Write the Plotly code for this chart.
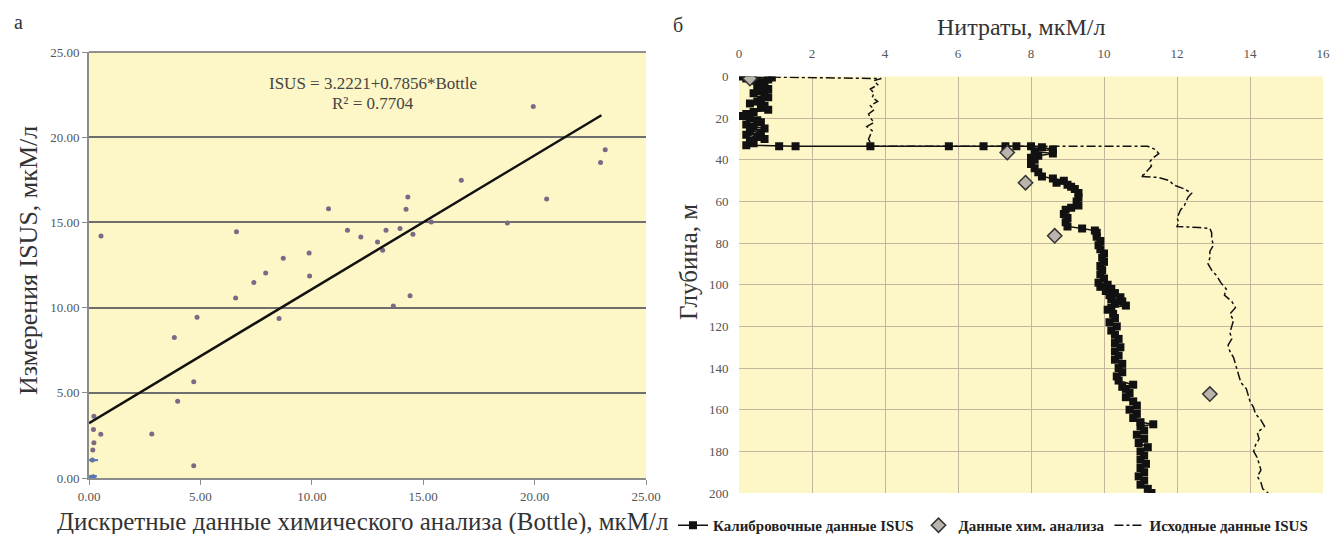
import plotly.graph_objects as go

# ---------------- data: panel a (scatter) ----------------
bottle = [0.10, 0.20, 0.15, 0.17, 0.22, 0.20, 0.22, 0.53, 0.54, 2.82, 3.83, 3.98, 4.70, 4.70,
          4.85, 6.58, 6.62, 7.40, 7.93, 8.53, 8.72, 9.88, 9.90, 10.75, 11.60, 12.20, 12.95,
          13.18, 13.33, 13.66, 13.96, 14.23, 14.31, 14.41, 14.54, 15.36, 16.71, 18.78, 19.94,
          20.54, 22.96, 23.17]
isus = [0.05, 0.08, 1.05, 1.64, 2.07, 2.85, 3.63, 2.57, 14.20, 2.58, 8.25, 4.51, 5.65, 0.72,
        9.44, 10.57, 14.45, 11.47, 12.03, 9.36, 12.90, 13.20, 11.86, 15.80, 14.54, 14.15, 13.85,
        13.36, 14.54, 10.10, 14.64, 15.77, 16.49, 10.69, 14.30, 15.02, 17.47, 14.97, 21.80,
        16.37, 18.52, 19.27]
near_zero_x = [0.10, 0.20, 0.15, 0.25]
near_zero_y = [0.05, 0.10, 1.05, 1.05]
fit_a = 3.2221
fit_b = 0.7856
fit_x = [0.0, 23.0]

# ---------------- data: panel b (profiles) ----------------
cal_depth = [0, 0.5, 1, 1.5, 2, 3, 4, 5, 6, 7, 8, 9, 10, 11, 12, 13, 14, 15, 16, 17, 18, 19, 20,
             21, 22, 23, 24, 25, 26, 27, 28, 29, 30, 31, 32, 33, 33.5, 33.5, 33.5, 33.5, 33.5,
             33.5, 33.5, 33.5, 34, 35, 36, 37, 38, 39, 40, 42, 44, 46, 48, 49, 50, 51, 52, 53,
             54, 56, 58, 60, 62, 63, 64, 66, 68, 70, 72, 73, 74, 75, 77, 79, 81, 83, 85, 87, 89,
             91, 93, 95, 97, 99, 100, 101, 102, 103, 104, 105, 106, 107, 108, 109, 110, 111, 112,
             114, 116, 118, 120, 122, 124, 126, 128, 130, 132, 134, 136, 138, 140, 142, 144, 146,
             148, 149, 150, 152, 154, 156, 158, 160, 162, 164, 166, 167, 168, 170, 172, 174, 176,
             178, 180, 182, 184, 186, 188, 190, 192, 194, 196, 198, 200]
cal_no3 = [0.0, 0.9, 0.2, 0.8, 0.4, 0.7, 0.6, 0.5, 0.8, 0.6, 0.4, 0.7, 0.8, 0.6, 0.5, 0.3, 0.7,
           0.6, 0.8, 0.4, 0.2, 0.1, 0.3, 0.5, 0.6, 0.2, 0.4, 0.7, 0.3, 0.6, 0.2, 0.5, 0.7, 0.3,
           0.4, 0.2, 1.1, 1.55, 3.6, 5.75, 6.7, 7.3, 7.6, 8.0, 8.3, 8.6, 8.1, 8.6, 8.2, 8.0, 8.1,
           8.0, 8.1, 8.2, 8.3, 8.6, 8.9, 8.7, 9.0, 9.1, 9.2, 9.3, 9.3, 9.25, 9.3, 9.1, 8.95, 8.9,
           9.0, 8.95, 9.0, 9.4, 9.75, 9.8, 9.8, 9.9, 9.85, 9.9, 10.0, 9.95, 10.0, 9.9, 9.95, 9.9,
           10.0, 9.85, 10.1, 9.9, 10.2, 10.05, 10.3, 10.15, 10.45, 10.2, 10.5, 10.3, 10.6, 10.2,
           10.1, 10.25, 10.3, 10.15, 10.35, 10.2, 10.3, 10.4, 10.3, 10.45, 10.3, 10.4, 10.3, 10.5,
           10.4, 10.5, 10.35, 10.4, 10.8, 10.5, 10.6, 10.7, 10.6, 10.8, 10.9, 10.7, 10.9, 10.8,
           11.0, 11.35, 11.0, 11.1, 10.9, 11.1, 10.95, 11.2, 11.0, 11.1, 11.0, 11.15, 11.0, 11.1,
           10.95, 11.1, 11.0, 11.2, 11.3]

raw_depth = [0.3, 0.8, 1, 2, 4, 6, 8, 10, 12, 14, 16, 18, 20, 22, 24, 26, 28, 30, 32, 33, 33.5,
             33.5, 35, 37, 39, 41, 43, 45, 47, 48, 48.5, 50, 52, 54, 56, 58, 60, 62, 64, 66, 68,
             70, 72, 72.5, 73, 75, 78, 81, 84, 87, 90, 93, 96, 99, 102, 105, 108, 111, 114, 117,
             120, 123, 126, 129, 132, 135, 138, 141, 144, 147, 150, 153, 156, 159, 162, 165, 168,
             171, 174, 177, 180, 183, 186, 189, 192, 195, 198, 200]
raw_no3 = [0.9, 3.4, 3.9, 3.7, 3.8, 3.6, 3.7, 3.65, 3.8, 3.6, 3.7, 3.55, 3.6, 3.7, 3.5, 3.65,
           3.6, 3.55, 3.6, 3.5, 3.6, 11.2, 11.4, 11.5, 11.35, 11.25, 11.3, 11.2, 11.1, 11.0, 11.5,
           11.8, 11.9, 12.2, 12.4, 12.3, 12.25, 12.2, 12.1, 12.05, 12.0, 12.05, 12.0, 12.6, 12.9,
           12.95, 12.95, 13.0, 12.9, 12.9, 12.85, 12.95, 13.1, 13.2, 13.35, 13.3, 13.5, 13.6,
           13.45, 13.55, 13.5, 13.45, 13.5, 13.4, 13.45, 13.55, 13.6, 13.65, 13.7, 13.75, 13.9,
           13.95, 14.0, 14.1, 14.15, 14.3, 14.4, 14.2, 14.25, 14.15, 14.1, 14.2, 14.25, 14.3,
           14.2, 14.3, 14.35, 14.5]

chem_depth = [1.0, 36.5, 51.0, 76.5, 152.5]
chem_no3 = [0.3, 7.35, 7.85, 8.65, 12.9]

left_ticks = [0, 5, 10, 15, 20, 25]
right_xticks = [0, 2, 4, 6, 8, 10, 12, 14, 16]
right_yticks = [0, 20, 40, 60, 80, 100, 120, 140, 160, 180, 200]

SERIF = "Liberation Serif"
W, H = 1333, 534

fig = go.Figure()

# panel a
fig.add_trace(go.Scatter(x=bottle, y=isus, mode="markers", xaxis="x", yaxis="y",
                         marker=dict(size=5, color="#7a6a85"), showlegend=False))
fig.add_trace(go.Scatter(x=near_zero_x, y=near_zero_y, mode="markers", xaxis="x", yaxis="y",
                         marker=dict(size=5, symbol="line-ew", color="#4f78c4",
                                     line=dict(width=2, color="#4f78c4")), showlegend=False))
fit_y = [fit_a + fit_b * v for v in fit_x]
fig.add_trace(go.Scatter(x=fit_x, y=fit_y, mode="lines", xaxis="x", yaxis="y",
                         line=dict(color="#111111", width=2.5), showlegend=False))

# panel b
fig.add_trace(go.Scatter(x=cal_no3, y=cal_depth, mode="lines+markers", xaxis="x2", yaxis="y2",
                         name="Калибровочные данные ISUS",
                         line=dict(color="#111111", width=1.5),
                         marker=dict(symbol="square", size=8, color="#111111")))
fig.add_trace(go.Scatter(x=chem_no3, y=chem_depth, mode="markers", xaxis="x2", yaxis="y2",
                         name="Данные хим. анализа",
                         marker=dict(symbol="diamond", size=11, color="#b9b4ac",
                                     line=dict(color="#333333", width=1.5))))
fig.add_trace(go.Scatter(x=raw_no3, y=raw_depth, mode="lines", xaxis="x2", yaxis="y2",
                         name="Исходные данные ISUS",
                         line=dict(color="#111111", width=1.5, dash="dashdot")))

def px_x(p):
    return p / W

def px_y(p):
    return 1 - p / H

tf_left = dict(family=SERIF, size=13, color="#555555")
tf_right = dict(family=SERIF, size=13, color="#555555")
CLEAR = "rgba(0,0,0,0)"

def note(text, x, y, size, angle=0, color="#333333"):
    return dict(text=text, x=px_x(x), y=px_y(y), xref="paper", yref="paper",
                showarrow=False, xanchor="center", yanchor="middle", textangle=angle,
                font=dict(size=size, color=color, family=SERIF))

fig.update_layout(
    width=W, height=H,
    margin=dict(l=0, r=0, t=0, b=0, autoexpand=False),
    paper_bgcolor="white",
    plot_bgcolor="#fdf6c6",
    font=dict(family=SERIF, color="#333333"),
    xaxis=dict(domain=[px_x(89), px_x(646)], range=[0, 25], tickvals=left_ticks,
               tickformat=".2f", showgrid=False, zeroline=False, automargin=False,
               showline=True, linecolor="#8c8c8c", linewidth=2,
               ticks="outside", ticklen=5, tickcolor="#8c8c8c", tickfont=tf_left),
    yaxis=dict(domain=[px_y(478), px_y(52)], range=[0, 25], tickvals=left_ticks,
               tickformat=".2f", showgrid=True, gridcolor="#6e6e6e", gridwidth=1.5,
               zeroline=False, showline=True, linecolor="#8c8c8c", linewidth=2,
               automargin=False,
               ticks="outside", ticklen=5, tickcolor="#8c8c8c", tickfont=tf_left),
    xaxis2=dict(domain=[px_x(739), px_x(1323)], range=[0, 16], tickvals=right_xticks,
                side="top", anchor="y2", showgrid=True, gridcolor="#c4b59c", gridwidth=1,
                zeroline=False, showline=False, ticks="outside", ticklen=12,
                tickcolor=CLEAR, automargin=False, tickfont=tf_right),
    yaxis2=dict(domain=[px_y(493), px_y(76.5)], range=[200, 0], tickvals=right_yticks,
                anchor="x2", showgrid=True, gridcolor="#c4b59c", gridwidth=1,
                zeroline=False, showline=False, ticks="outside", ticklen=7,
                tickcolor=CLEAR, automargin=False, tickfont=tf_right),
    legend=dict(orientation="h", x=px_x(673), y=px_y(509), xanchor="left", yanchor="top",
                font=dict(family=SERIF, size=15, color="#222222", weight="bold"),
                bgcolor=CLEAR, tracegroupgap=0),
    shapes=[dict(type="line", xref="x domain", yref="y domain", x0=0, x1=1, y0=1, y1=1,
                 line=dict(color="#6e6e6e", width=1.5))],
    annotations=[
        note("Дискретные данные химического анализа (Bottle), мкМ/л", 362, 522, 25),
        note("Измерения ISUS, мкМ/л", 28, 261, 26, angle=-90),
        note("Нитраты, мкМ/л", 1021, 27, 24),
        note("Глубина, м", 688, 262, 25, angle=-90),
        note("ISUS = 3.2221+0.7856*Bottle", 373, 83, 17, color="#444444"),
        note("R² = 0.7704", 373, 103, 17, color="#444444"),
        note("а", 18, 22, 20),
        note("б", 678, 25, 20),
    ],
)

fig.write_html("out.html")
